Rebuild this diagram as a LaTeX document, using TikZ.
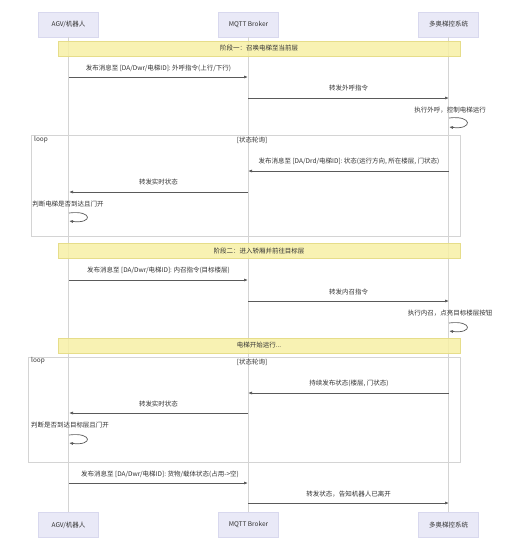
\documentclass[tikz,border=0pt]{standalone}
\usepackage{fontspec}
\setmainfont{Noto Sans CJK SC}
\usetikzlibrary{arrows.meta}
\definecolor{actorfill}{HTML}{E9E9F7}
\definecolor{actorline}{HTML}{D8D8EE}
\definecolor{notefill}{HTML}{F7F0A6}
\definecolor{noteline}{HTML}{E6DD8A}
\definecolor{lifecol}{HTML}{D4D4D4}
\definecolor{msgline}{HTML}{5A5A5A}
\definecolor{loopline}{HTML}{D4D4D4}
\definecolor{txt}{HTML}{333333}
\tikzset{
  actor/.style={draw=actorline, fill=actorfill, minimum width=60pt, minimum height=25pt, inner sep=0pt, font=\fontsize{6.5}{7.5}\selectfont, text=txt},
  notebox/.style={draw=noteline, fill=notefill, fill opacity=0.85, text opacity=1, minimum width=402pt, minimum height=15pt, inner sep=0pt, font=\fontsize{6.5}{7.5}\selectfont, text=txt},
  msg/.style={draw=msgline, line width=0.7pt, -{Latex[length=4pt,width=3pt]}},
  lbl/.style={font=\fontsize{6.5}{7.5}\selectfont, text=txt, inner sep=0pt},
  life/.style={draw=lifecol, line width=0.6pt},
  loopbox/.style={draw=loopline, line width=0.6pt},
}
\begin{document}
\begin{tikzpicture}[x=1pt, y=-1pt]
\useasboundingbox[fill=white] (0,0) rectangle (518,550);

% actors
\node[actor] (agvT) at (68.5,24.5) {AGV/机器人};
\node[actor] (mqT) at (248.5,24.5) {MQTT Broker};
\node[actor] (sysT) at (448.5,24.5) {多奥梯控系统};
\node[actor] (agvB) at (68.5,525) {AGV/机器人};
\node[actor] (mqB) at (248.5,525) {MQTT Broker};
\node[actor] (sysB) at (448.5,525) {多奥梯控系统};

% lifelines
\draw[life] (agvT.south) -- (agvB.north);
\draw[life] (mqT.south) -- (mqB.north);
\draw[life] (sysT.south) -- (sysB.north);

% loop boxes
\draw[loopbox] (31,135) rectangle (460,236);
\node[lbl, anchor=west] (loop1) at (34,140) {loop};
\node[lbl] (cond1) at (252,140) {[状态轮询]};
\draw[loopbox] (28,357) rectangle (460,462);
\node[lbl, anchor=west] (loop2) at (31,361) {loop};
\node[lbl] (cond2) at (252,362) {[状态轮询]};

% notes
\node[notebox] (n1) at (259,48.5) {阶段一：召唤电梯至当前层};
\node[notebox] (n2) at (259,251) {阶段二：进入轿厢并前往目标层};
\node[notebox] (n3) at (259,345.5) {电梯开始运行...};

% message endpoints
\foreach \y in {77,98,118,127,171,192,213,221,280,301,323,331,393,413,435,443,483,503}{
  \coordinate (A\y) at (69,\y);
  \coordinate (M\y) at (248,\y);
  \coordinate (S\y) at (449,\y);
}

% phase 1
\node[lbl] (l1) at (158.5,68) {发布消息至 [DA/Dwr/电梯ID]: 外呼指令(上行/下行)};
\draw[msg] (A77) -- (M77);
\node[lbl] (l2) at (348.5,88) {转发外呼指令};
\draw[msg] (M98) -- (S98);
\node[lbl] (l3) at (450,110) {执行外呼，控制电梯运行};
\draw[msg] (S118) .. controls +(24,-3) and +(24,3) .. (S127);

\node[lbl] (l4) at (349,161) {发布消息至 [DA/Drd/电梯ID]: 状态(运行方向, 所在楼层, 门状态)};
\draw[msg] (S171) -- (M171);
\node[lbl] (l5) at (158.5,182) {转发实时状态};
\draw[msg] (M192) -- (A192);
\node[lbl] (l6) at (68,204) {判断电梯是否到达且门开};
\draw[msg] (A213) .. controls +(24,-3) and +(24,3) .. (A221);

% phase 2
\node[lbl] (l7) at (158.5,270) {发布消息至 [DA/Dwr/电梯ID]: 内召指令(目标楼层)};
\draw[msg] (A280) -- (M280);
\node[lbl] (l8) at (348.5,292) {转发内召指令};
\draw[msg] (M301) -- (S301);
\node[lbl] (l9) at (450,313) {执行内召，点亮目标楼层按钮};
\draw[msg] (S323) .. controls +(24,-3) and +(24,3) .. (S331);

\node[lbl] (l10) at (349,383) {持续发布状态(楼层, 门状态)};
\draw[msg] (S393) -- (M393);
\node[lbl] (l11) at (158.5,404) {转发实时状态};
\draw[msg] (M413) -- (A413);
\node[lbl] (l12) at (70,425) {判断是否到达目标层且门开};
\draw[msg] (A435) .. controls +(24,-3) and +(24,3) .. (A443);

\node[lbl] (l13) at (160,474) {发布消息至 [DA/Dwr/电梯ID]: 货物/载体状态(占用->空)};
\draw[msg] (A483) -- (M483);
\node[lbl] (l14) at (348.5,494) {转发状态，告知机器人已离开};
\draw[msg] (M503) -- (S503);
\end{tikzpicture}
\end{document}
